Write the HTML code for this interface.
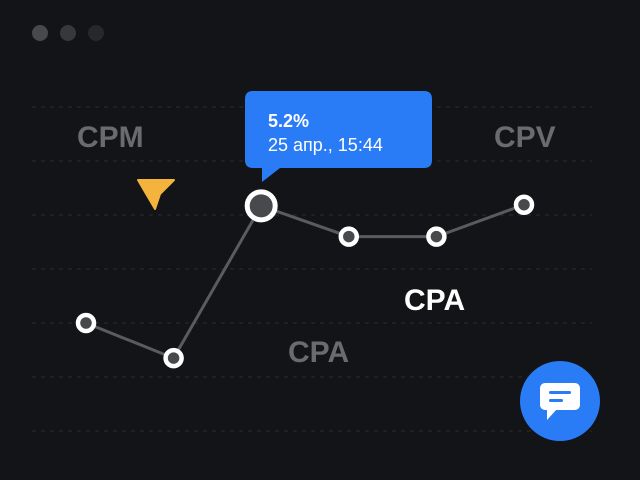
<!DOCTYPE html>
<html><head><meta charset="utf-8"><style>
html,body{margin:0;padding:0;background:#131417;}
svg{display:block}
text{font-family:"Liberation Sans",sans-serif;}
</style></head><body>
<svg width="640" height="480" viewBox="0 0 640 480">
<rect width="640" height="480" fill="#131417"/>
<circle cx="40" cy="33" r="8" fill="#48494c"/>
<circle cx="68" cy="33" r="8" fill="#37383b"/>
<circle cx="96" cy="33" r="8" fill="#27282b"/>
<g id="grid"></g>
<text x="77" y="147" font-size="30" font-weight="bold" fill="#6a6b6d">CPM</text>
<text x="494" y="147" font-size="30" font-weight="bold" fill="#6a6b6d">CPV</text>
<text x="288" y="362" font-size="30" font-weight="bold" fill="#6a6b6d">CPA</text>
<text x="404" y="310" font-size="30" font-weight="bold" fill="#ffffff">CPA</text>
<path d="M138 180 L174 180 L160 194 L155 209 Z" fill="#f3b33d" stroke="#f3b33d" stroke-width="2" stroke-linejoin="round"/>
<g id="series"></g>
<g>
<path d="M253 91 H424 Q432 91 432 99 V160 Q432 168 424 168 H280 L262 182 L262 168 H253 Q245 168 245 160 V99 Q245 91 253 91 Z" fill="#2a7cf6"/>
<text x="268" y="127" font-size="18" font-weight="bold" fill="#fff">5.2%</text>
<text x="268" y="151" font-size="18" fill="#fff">25 апр., 15:44</text>
</g>
<g>
<circle cx="560" cy="401" r="40" fill="#2a7cf6"/>
<rect x="540" y="383" width="40" height="27" rx="5" fill="#fff"/>
<path d="M547 409 L547 420 L557 409 Z" fill="#fff"/>
<rect x="549" y="391" width="22" height="3" rx="1.5" fill="#2a7cf6"/>
<rect x="549" y="399" width="14" height="3" rx="1.5" fill="#2a7cf6"/>
</g>
</svg>
<script>
const categories=["p1","p2","p3","p4","p5","p6"];
const values=[2.0,1.35,4.17,3.6,3.6,4.19];
const gridLevels=[0,1,2,3,4,5,6];
const highlightIndex=2;
const NS="http://www.w3.org/2000/svg";
function xScale(i){return 86+i*87.6;}
function yScale(v){return 431-v*54;}
const grid=document.getElementById('grid');
gridLevels.forEach(g=>{
 const l=document.createElementNS(NS,'line');
 l.setAttribute('x1',32);l.setAttribute('x2',592);
 l.setAttribute('y1',yScale(g));l.setAttribute('y2',yScale(g));
 l.setAttribute('stroke','#2a2b2f');l.setAttribute('stroke-dasharray','4 5');
 
 
 grid.appendChild(l);
});
const s=document.getElementById('series');
const pl=document.createElementNS(NS,'polyline');
pl.setAttribute('points',values.map((v,i)=>xScale(i)+','+yScale(v)).join(' '));
pl.setAttribute('fill','none');pl.setAttribute('stroke','#5a5b5e');pl.setAttribute('stroke-width','3');


s.appendChild(pl);
values.forEach((v,i)=>{
 const c=document.createElementNS(NS,'circle');
 const big=i===highlightIndex;
 c.setAttribute('cx',xScale(i));c.setAttribute('cy',yScale(v));
 c.setAttribute('r',big?14:8);
 c.setAttribute('fill','#48494c');c.setAttribute('stroke','#fff');c.setAttribute('stroke-width',big?5:4.5);
 
 
 s.appendChild(c);
});
</script>
</body></html>
